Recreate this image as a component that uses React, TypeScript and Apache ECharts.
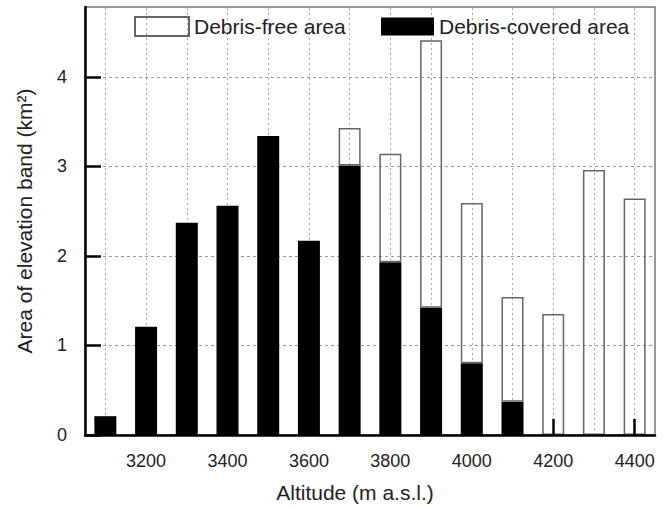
import React, { useEffect, useRef } from "react";
import * as echarts from "echarts";

const altitudes = ["3100", "3200", "3300", "3400", "3500", "3600", "3700", "3800", "3900", "4000", "4100", "4200", "4300", "4400"];
const debrisCovered = [0.21, 1.21, 2.37, 2.56, 3.34, 2.17, 3.01, 1.93, 1.42, 0.8, 0.37, null, null, null];
const debrisFree = [null, null, null, null, null, null, 0.42, 1.21, 2.99, 1.79, 1.17, 1.35, 2.96, 2.64];
const yTickValues = [0, 1, 2, 3, 4];

const FONT = 'Arial, "Liberation Sans", Helvetica, sans-serif';

export default function App() {
  const ref = useRef<HTMLDivElement>(null);
  useEffect(() => {
    document.body.style.margin = "0";
    const chart = echarts.init(ref.current!, null, { renderer: "svg" });
    chart.setOption({
      animation: false,
      backgroundColor: "#fff",
      grid: {
        left: 85,
        right: 9,
        top: 7,
        bottom: 73,
        show: true,
        borderColor: "#777",
        borderWidth: 1.5,
        backgroundColor: "transparent",
      },
      legend: [
        {
          data: ["Debris-free area"],
          left: 129,
          top: 11,
          itemWidth: 54,
          itemHeight: 19,
          icon: "rect",
          selectedMode: false,
          textStyle: { fontFamily: FONT, fontSize: 21, color: "#222", padding: [0, 0, 0, 0] },
        },
        {
          data: ["Debris-covered area"],
          left: 376,
          top: 11,
          itemWidth: 53,
          itemHeight: 18,
          icon: "rect",
          selectedMode: false,
          textStyle: { fontFamily: FONT, fontSize: 21, color: "#222", padding: [0, 0, 0, 0] },
        },
      ],
      xAxis: {
        type: "category",
        data: altitudes,
        boundaryGap: true,
        z: 5,
        name: "Altitude (m a.s.l.)",
        nameLocation: "middle",
        nameGap: 47,
        nameTextStyle: { fontFamily: FONT, fontSize: 21, color: "#222", padding: [0, 30, 0, 0] },
        axisLine: { show: true, lineStyle: { color: "#000", width: 2.5 } },
        axisTick: {
          show: true,
          inside: true,
          length: 16,
          alignWithLabel: true,
          interval: (i: number) => i % 2 === 1,
          lineStyle: { color: "#000", width: 2.5 },
        },
        axisLabel: {
          interval: (i: number) => i % 2 === 1,
          margin: 17,
          fontFamily: FONT,
          fontSize: 18,
          color: "#222",
        },
        splitLine: { show: false },
      },
      yAxis: {
        type: "value",
        min: 0,
        max: 4.78,
        interval: 0.5,
        name: "Area of elevation band (km²)",
        nameLocation: "middle",
        nameGap: 50,
        nameTextStyle: { fontFamily: FONT, fontSize: 21, color: "#222" },
        axisLine: { show: true, lineStyle: { color: "#000", width: 2.5 } },
        axisTick: {
          show: true,
          inside: true,
          length: 16,
          customValues: yTickValues,
          lineStyle: { color: "#000", width: 2.5 },
        },
        axisLabel: {
          customValues: yTickValues,
          margin: 18,
          fontFamily: FONT,
          fontSize: 18,
          color: "#222",
        },
        splitLine: {
          show: true,
          lineStyle: { color: "#999", width: 1, type: [3, 3] },
        },
      },
      series: [
        {
          name: "Debris-covered area",
          type: "bar",
          stack: "area",
          data: debrisCovered,
          barWidth: 22,
          z: 3,
          itemStyle: { color: "#000", borderColor: "#000", borderWidth: 0 },
          markLine: {
            z: 1,
            silent: true,
            symbol: "none",
            label: { show: false },
            lineStyle: { color: "#aaa", width: 1, type: [2, 3] },
            emphasis: { disabled: true },
            data: altitudes.map((a) => ({ xAxis: a })),
          },
        },
        {
          name: "Debris-free area",
          type: "bar",
          stack: "area",
          data: debrisFree,
          barWidth: 22,
          z: 3,
          itemStyle: { color: "rgba(255,255,255,0)", borderColor: "#666", borderWidth: 1.5 },
        },
      ],
    });
    return () => chart.dispose();
  }, []);
  return <div ref={ref} style={{ width: 664, height: 508 }} />;
}
